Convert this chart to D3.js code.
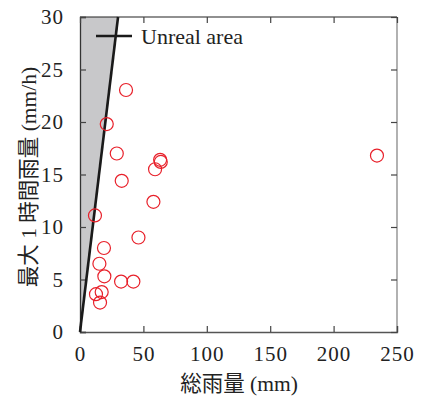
<!DOCTYPE html>
<html>
<head>
<meta charset="utf-8">
<script src="https://cdn.jsdelivr.net/npm/d3@7"></script>
<style>
body { margin: 0; background: #fff; }
svg { display: block; }
</style>
</head>
<body>
<svg id="chart" width="423" height="397"></svg>
<script>
const totalRain = [29.0, 32.9, 59.2, 63.2, 63.7, 57.9, 11.8, 46.1, 18.9, 15.3, 19.2, 32.4, 42.1, 17.1, 12.6, 15.8, 36.3, 21.1, 234.2];
const maxHourly = [17.0, 14.4, 15.5, 16.4, 16.2, 12.4, 11.1, 9.0, 8.0, 6.5, 5.3, 4.8, 4.8, 3.8, 3.6, 2.8, 23.05, 19.8, 16.8];
const xTicks = [0, 50, 100, 150, 200, 250];
const yTicks = [0, 5, 10, 15, 20, 25, 30];
const unrealLine = [[0, 0], [30, 30]];
const xDomain = [0, 250];
const yDomain = [0, 30];
const legendLabel = "Unreal area";
const xTitle = "総雨量 (mm)";
const yTitle = "最大 1 時間雨量 (mm/h)";

const SERIF = "'Liberation Serif', 'Times New Roman', Times, serif";
const CJK = "'Liberation Serif', 'Times New Roman', 'Noto Sans CJK JP', serif";

const svg = d3.select("#chart");
const L = 80, R = 397, T = 17, B = 332;
const x = d3.scaleLinear().domain(xDomain).range([L, R]);
const y = d3.scaleLinear().domain(yDomain).range([B, T]);

// unreal area
const area = [[0, 0], unrealLine[1], [0, yDomain[1]]];
svg.append("path")
  .attr("d", d3.line().x(d => x(d[0])).y(d => y(d[1]))(area) + "Z")
  .attr("fill", "#c8c8ca");

// frame
svg.append("line").attr("x1", L).attr("x2", R).attr("y1", T).attr("y2", T).attr("stroke", "#222").attr("stroke-width", 1.2);
svg.append("line").attr("x1", R).attr("x2", R).attr("y1", T).attr("y2", B).attr("stroke", "#888").attr("stroke-width", 1.3);

function styleText(g) {
  g.attr("font-family", SERIF).attr("font-size", 21);
  g.selectAll("text").style("font-family", SERIF).style("font-size", "21px")
    .style("letter-spacing", "1px").attr("fill", "#222");
}

// axes
const tk = 6;
svg.append("g").attr("transform", `translate(0,${B})`)
  .call(d3.axisBottom(x).tickValues(xTicks).tickSize(-tk).tickPadding(tk + 8).tickFormat(d3.format("d")))
  .call(g => {
    styleText(g);
    g.select(".domain").attr("stroke", "#555").attr("stroke-width", 1.3);
    g.selectAll(".tick line").attr("stroke", "#444").attr("stroke-width", 1.2);
  });
svg.append("g").attr("transform", `translate(${L},0)`)
  .call(d3.axisLeft(y).tickValues(yTicks).tickSize(-tk).tickPadding(tk + 10).tickFormat(d3.format("d")))
  .call(g => {
    styleText(g);
    g.select(".domain").attr("stroke", "#333").attr("stroke-width", 1.3);
    g.selectAll(".tick line").attr("stroke", "#444").attr("stroke-width", 1.2);
  });
svg.append("g").attr("transform", `translate(0,${T})`)
  .call(d3.axisTop(x).tickValues(xTicks).tickSize(-tk).tickFormat(""))
  .call(g => {
    g.select(".domain").remove();
    g.selectAll(".tick line").attr("stroke", "#444").attr("stroke-width", 1.2);
  });
svg.append("g").attr("transform", `translate(${R},0)`)
  .call(d3.axisRight(y).tickValues(yTicks).tickSize(-tk).tickFormat(""))
  .call(g => {
    g.select(".domain").remove();
    g.selectAll(".tick line").attr("stroke", "#444").attr("stroke-width", 1.2);
  });

// unreal line
svg.append("path")
  .attr("d", d3.line().x(d => x(d[0])).y(d => y(d[1]))(unrealLine))
  .attr("stroke", "#1a1a1a").attr("stroke-width", 2.6).attr("fill", "none");

// points
svg.append("g").selectAll("circle")
  .data(totalRain.map((v, i) => [v, maxHourly[i]]))
  .join("circle")
  .attr("cx", d => x(d[0])).attr("cy", d => y(d[1])).attr("r", 6.5)
  .attr("fill", "none").attr("stroke", "#e8202a").attr("stroke-width", 1.2);

// legend
svg.append("line").attr("x1", 96).attr("x2", 132).attr("y1", 36).attr("y2", 36)
  .attr("stroke", "#1a1a1a").attr("stroke-width", 2.4);
svg.append("text").attr("x", 141).attr("y", 44).text(legendLabel)
  .style("font-family", SERIF).style("font-size", "22px").attr("fill", "#222");

// titles
svg.append("text").attr("x", 239).attr("y", 391).attr("text-anchor", "middle")
  .text(xTitle).style("font-family", CJK).style("font-size", "21.5px").attr("fill", "#222");
svg.append("text").attr("transform", "translate(36,177) rotate(-90)").attr("text-anchor", "middle")
  .text(yTitle).style("font-family", CJK).style("font-size", "21.5px").attr("fill", "#222");
</script>
</body>
</html>
